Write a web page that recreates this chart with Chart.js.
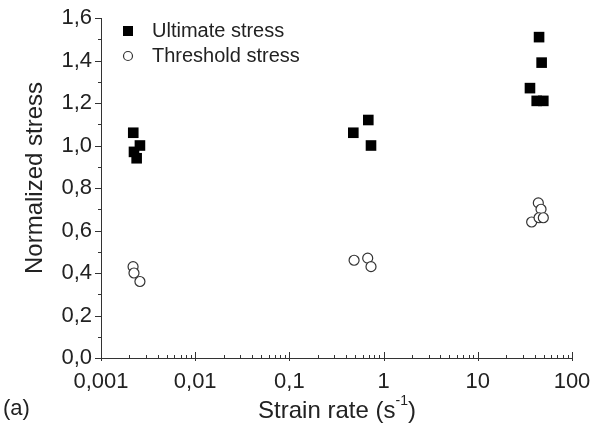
<!DOCTYPE html>
<html>
<head>
<meta charset="utf-8">
<script src="https://cdn.jsdelivr.net/npm/chart.js@4.4.0/dist/chart.umd.min.js"></script>
<style>
html, body { margin: 0; padding: 0; background: #fff; }
</style>
</head>
<body>
<canvas id="grafico" width="593" height="434"></canvas>
<script>
// valores
var ultimateX = [0.00220, 0.00259, 0.00224, 0.00239, 0.477, 0.688, 0.735, 44.7, 47.6, 35.8, 42.2, 49.6];
var ultimateY = [1.06, 1.00, 0.97, 0.94, 1.06, 1.12, 1.00, 1.51, 1.39, 1.27, 1.21, 1.21];
var thresholdX = [0.00219, 0.00224, 0.00259, 0.486, 0.678, 0.735, 43.9, 46.9, 37.3, 44.7, 49.6];
var thresholdY = [0.43, 0.40, 0.36, 0.46, 0.47, 0.43, 0.73, 0.70, 0.64, 0.66, 0.66];

var xTicks = [0.001, 0.01, 0.1, 1, 10, 100];
var xTickLabels = ["0,001", "0,01", "0,1", "1", "10", "100"];
var yTicks = [0, 0.2, 0.4, 0.6, 0.8, 1.0, 1.2, 1.4, 1.6];
var yTickLabels = ["0,0", "0,2", "0,4", "0,6", "0,8", "1,0", "1,2", "1,4", "1,6"];
var yMinorTicks = [0.1, 0.3, 0.5, 0.7, 0.9, 1.1, 1.3, 1.5];

var FUENTE = "'Liberation Sans', Arial, sans-serif";
var COLOR_EJE = "#333";

function puntos(xs, ys)
{
    var aux = [];
    for (var i = 0; i < xs.length; i++) {
        aux.push({x: xs[i], y: ys[i]});
    }
    return aux;
}

// ticks, leyenda y titulos dibujados a mano
var extras = {
    id: "extras",
    afterDraw: function(chart) {
        var ctx = chart.ctx;
        var ejeX = chart.scales.x;
        var ejeY = chart.scales.y;
        var area = chart.chartArea;
        ctx.save();
        ctx.strokeStyle = COLOR_EJE;
        ctx.lineWidth = 1;
        ctx.beginPath();
        var i, p;
        for (i = 0; i < yTicks.length; i++) {
            p = Math.round(ejeY.getPixelForValue(yTicks[i])) + 0.5;
            ctx.moveTo(area.left - 6, p);
            ctx.lineTo(area.left, p);
        }
        for (i = 0; i < yMinorTicks.length; i++) {
            p = Math.round(ejeY.getPixelForValue(yMinorTicks[i])) + 0.5;
            ctx.moveTo(area.left - 3, p);
            ctx.lineTo(area.left, p);
        }
        for (i = 0; i < xTicks.length; i++) {
            p = Math.round(ejeX.getPixelForValue(xTicks[i])) + 0.5;
            ctx.moveTo(p, area.bottom + 3);
            ctx.lineTo(p, area.bottom - 6);
            if (i < xTicks.length - 1) {
                for (var m = 2; m <= 9; m++) {
                    var pm = Math.round(ejeX.getPixelForValue(xTicks[i] * m)) + 0.5;
                    ctx.moveTo(pm, area.bottom);
                    ctx.lineTo(pm, area.bottom - 3);
                }
            }
        }
        ctx.stroke();

        // leyenda
        var sets = chart.data.datasets;
        var leyY = [31, 56];
        ctx.font = "20px " + FUENTE;
        ctx.textBaseline = "middle";
        ctx.textAlign = "left";
        for (i = 0; i < sets.length; i++) {
            var ds = sets[i];
            ctx.fillStyle = ds.backgroundColor;
            ctx.strokeStyle = ds.borderColor;
            ctx.lineWidth = ds.borderWidth;
            if (ds.pointStyle === "rect") {
                ctx.fillRect(123, leyY[i] - 5, 10, 10);
            } else {
                ctx.beginPath();
                ctx.arc(128, leyY[i], 4.5, 0, Math.PI * 2);
                ctx.fill();
                ctx.stroke();
            }
            ctx.fillStyle = "#222";
            ctx.fillText(ds.label, 152, leyY[i]);
        }

        // titulos de ejes
        ctx.fillStyle = "#222";
        ctx.font = "24px " + FUENTE;
        ctx.textAlign = "center";
        ctx.save();
        ctx.translate(35, 178);
        ctx.rotate(-Math.PI / 2);
        ctx.fillText("Normalized stress", 0, 0);
        ctx.restore();

        var base = "Strain rate (s";
        var sup = "-1";
        ctx.font = "24px " + FUENTE;
        var w1 = ctx.measureText(base).width;
        var w3 = ctx.measureText(")").width;
        ctx.font = "14px " + FUENTE;
        var w2 = ctx.measureText(sup).width;
        var x0 = 337 - (w1 + w2 + w3) / 2;
        ctx.textAlign = "left";
        ctx.font = "24px " + FUENTE;
        ctx.fillText(base, x0, 411);
        ctx.font = "14px " + FUENTE;
        ctx.fillText(sup, x0 + w1, 401);
        ctx.font = "24px " + FUENTE;
        ctx.fillText(")", x0 + w1 + w2, 411);

        ctx.font = "22px " + FUENTE;
        ctx.fillText("(a)", 3, 409);
        ctx.restore();
    }
};

Chart.defaults.font.family = FUENTE;
Chart.defaults.color = "#222";

var ctx = document.getElementById("grafico");
new Chart(ctx, {
    type: "scatter",
    data: {
        datasets: [{
            label: "Ultimate stress",
            data: puntos(ultimateX, ultimateY),
            pointStyle: "rect",
            pointRadius: 7.5,
            backgroundColor: "#000",
            borderColor: "#000",
            borderWidth: 0
        }, {
            label: "Threshold stress",
            data: puntos(thresholdX, thresholdY),
            pointStyle: "circle",
            pointRadius: 5,
            backgroundColor: "#fff",
            borderColor: "#333",
            borderWidth: 1.2
        }]
    },
    options: {
        animation: false,
        responsive: false,
        events: [],
        layout: {padding: {top: 18, right: 21, left: 0, bottom: 0}},
        plugins: {legend: {display: false}, tooltip: {enabled: false}},
        scales: {
            x: {
                type: "logarithmic",
                min: 0.001,
                max: 100,
                grid: {display: false, drawTicks: false},
                border: {display: true, color: COLOR_EJE, width: 1},
                afterBuildTicks: function(scale) {
                    scale.ticks = xTicks.map(function(v) { return {value: v}; });
                },
                afterFit: function(scale) {
                    scale.height = 76;
                    scale.paddingLeft = 0;
                    scale.paddingRight = 0;
                },
                ticks: {
                    padding: 11,
                    maxRotation: 0,
                    autoSkip: false,
                    font: {size: 22},
                    callback: function(v, i) { return xTickLabels[i]; }
                }
            },
            y: {
                min: 0,
                max: 1.6,
                grid: {display: false, drawTicks: false},
                border: {display: true, color: COLOR_EJE, width: 1},
                afterBuildTicks: function(scale) {
                    scale.ticks = yTicks.map(function(v) { return {value: v}; });
                },
                afterFit: function(scale) {
                    scale.width = 101;
                    scale.paddingTop = 0;
                    scale.paddingBottom = 0;
                },
                ticks: {
                    padding: 9,
                    autoSkip: false,
                    font: {size: 22},
                    callback: function(v, i) { return yTickLabels[i]; }
                }
            }
        }
    },
    plugins: [extras]
});
</script>
</body>
</html>
